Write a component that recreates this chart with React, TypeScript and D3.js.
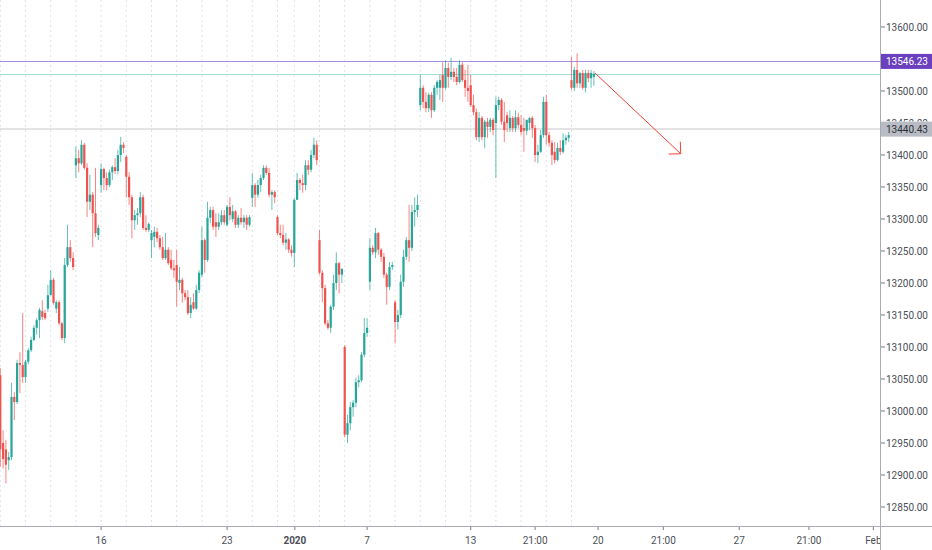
import React, { useEffect, useRef } from "react";
import * as d3 from "d3";

// open, high, low, close (hourly bars, one block per session)
type Bar = [number, number, number, number];

const bars: Bar[] = [
  // Dec 10
  [13056, 13067, 12913, 12940], [12950, 12970, 12910, 12925], [12940, 12955, 12887, 12916],
  [12923, 12936, 12908, 12928], [12928, 13044, 12923, 13022], [13022, 13030, 12986, 13014],
  [13014, 13080, 13011, 13075], [13075, 13092, 13028, 13072], [13072, 13153, 13044, 13053],
  // Dec 11
  [13053, 13080, 13044, 13077], [13077, 13098, 13073, 13095], [13095, 13116, 13092, 13111],
  [13111, 13134, 13109, 13130], [13130, 13145, 13119, 13142], [13142, 13161, 13114, 13158],
  [13156, 13173, 13142, 13147], [13153, 13158, 13142, 13145], [13160, 13197, 13155, 13181],
  // Dec 12
  [13181, 13220, 13181, 13205], [13205, 13208, 13166, 13169], [13160, 13173, 13153, 13170],
  [13170, 13173, 13134, 13137], [13137, 13139, 13111, 13114], [13114, 13239, 13106, 13228],
  [13228, 13291, 13225, 13256], [13256, 13267, 13233, 13239], [13239, 13248, 13220, 13225],
  // Dec 13
  [13384, 13413, 13364, 13395], [13395, 13408, 13373, 13387], [13387, 13423, 13384, 13416],
  [13416, 13419, 13377, 13380], [13380, 13387, 13303, 13327], [13327, 13369, 13314, 13338],
  [13338, 13342, 13256, 13309], [13309, 13380, 13272, 13278], [13275, 13291, 13267, 13286],
  // Dec 16
  [13353, 13387, 13341, 13378], [13378, 13380, 13345, 13364], [13364, 13373, 13345, 13353],
  [13353, 13377, 13350, 13373], [13373, 13384, 13361, 13381], [13381, 13395, 13370, 13375],
  [13375, 13408, 13370, 13400], [13400, 13428, 13389, 13416], [13416, 13420, 13403, 13411],
  // Dec 17
  [13397, 13400, 13334, 13366], [13366, 13373, 13322, 13334], [13334, 13338, 13270, 13298],
  [13298, 13314, 13283, 13306], [13306, 13317, 13291, 13309], [13309, 13342, 13303, 13334],
  [13334, 13338, 13283, 13286], [13286, 13306, 13280, 13283], [13283, 13295, 13280, 13292],
  // Dec 18
  [13267, 13283, 13239, 13278], [13272, 13288, 13256, 13280], [13280, 13286, 13264, 13270],
  [13270, 13275, 13252, 13256], [13256, 13272, 13236, 13239], [13239, 13278, 13236, 13252],
  [13252, 13256, 13228, 13231], [13236, 13252, 13220, 13223], [13223, 13236, 13208, 13220],
  // Dec 19
  [13228, 13252, 13163, 13202], [13200, 13225, 13189, 13205], [13205, 13208, 13169, 13184],
  [13184, 13189, 13173, 13178], [13178, 13189, 13150, 13153], [13153, 13178, 13145, 13166],
  [13170, 13184, 13158, 13160], [13160, 13197, 13158, 13189], [13189, 13220, 13184, 13216],
  // Dec 20
  [13213, 13288, 13209, 13267], [13267, 13270, 13216, 13236], [13236, 13327, 13233, 13302],
  [13302, 13319, 13294, 13314], [13314, 13319, 13283, 13288], [13295, 13309, 13272, 13288],
  [13288, 13309, 13283, 13295], [13295, 13314, 13291, 13306], [13306, 13314, 13291, 13295],
  // Dec 23
  [13291, 13322, 13289, 13319], [13319, 13334, 13298, 13306], [13300, 13322, 13295, 13312],
  [13312, 13314, 13286, 13291], [13291, 13306, 13286, 13302], [13302, 13317, 13291, 13295],
  [13295, 13306, 13286, 13302], [13302, 13306, 13283, 13291], [13291, 13306, 13288, 13303],
  // Dec 27
  [13333, 13372, 13319, 13353], [13353, 13356, 13319, 13338], [13338, 13361, 13333, 13353],
  [13353, 13369, 13342, 13364], [13364, 13384, 13361, 13380], [13380, 13384, 13369, 13372],
  [13372, 13380, 13334, 13338], [13338, 13345, 13314, 13342], [13342, 13345, 13325, 13334],
  // Dec 30
  [13303, 13306, 13275, 13278], [13278, 13291, 13270, 13275], [13275, 13291, 13259, 13263],
  [13263, 13278, 13252, 13268], [13268, 13270, 13247, 13252], [13252, 13259, 13241, 13247],
  // Jan 2
  [13247, 13333, 13225, 13330], [13330, 13372, 13330, 13361], [13361, 13364, 13345, 13356],
  [13356, 13369, 13341, 13353], [13353, 13392, 13345, 13384], [13384, 13392, 13369, 13377],
  [13377, 13408, 13373, 13400], [13400, 13427, 13395, 13416], [13416, 13423, 13384, 13392],
  // Jan 3
  [13267, 13283, 13213, 13216], [13216, 13220, 13170, 13192], [13192, 13197, 13134, 13137],
  [13137, 13142, 13127, 13130], [13130, 13166, 13122, 13163], [13163, 13213, 13158, 13200],
  [13200, 13248, 13189, 13231], [13231, 13233, 13184, 13213], [13213, 13223, 13200, 13222],
  // Jan 6
  [13100, 13103, 12959, 12963], [12963, 12994, 12950, 12981], [12981, 13014, 12970, 13006],
  [13006, 13017, 12991, 13013], [13013, 13052, 13006, 13045], [13045, 13056, 13037, 13048],
  [13048, 13092, 13045, 13088], [13088, 13145, 13084, 13122], [13122, 13145, 13116, 13130],
  // Jan 7
  [13202, 13270, 13189, 13255], [13255, 13259, 13244, 13248], [13248, 13286, 13239, 13278],
  [13278, 13280, 13244, 13252], [13252, 13255, 13233, 13241], [13241, 13247, 13208, 13213],
  [13213, 13216, 13166, 13194], [13194, 13233, 13189, 13225], [13225, 13233, 13220, 13228],
  // Jan 8
  [13170, 13173, 13106, 13139], [13139, 13158, 13127, 13150], [13150, 13213, 13145, 13202],
  [13202, 13252, 13194, 13241], [13241, 13272, 13236, 13267], [13267, 13322, 13233, 13255],
  [13255, 13322, 13250, 13311], [13311, 13334, 13288, 13314], [13314, 13338, 13303, 13322],
  // Jan 9
  [13478, 13525, 13470, 13505], [13505, 13509, 13473, 13483], [13483, 13498, 13467, 13473],
  [13473, 13497, 13467, 13494], [13494, 13498, 13458, 13470], [13470, 13509, 13467, 13505],
  [13505, 13517, 13494, 13514], [13505, 13525, 13486, 13517], [13525, 13545, 13483, 13505],
  // Jan 10
  [13505, 13548, 13502, 13536], [13536, 13544, 13505, 13522], [13522, 13552, 13517, 13530],
  [13530, 13536, 13514, 13522], [13522, 13536, 13509, 13514], [13514, 13548, 13512, 13541],
  [13541, 13545, 13514, 13517], [13517, 13533, 13491, 13505], [13505, 13541, 13483, 13500],
  // Jan 13
  [13509, 13525, 13475, 13478], [13478, 13494, 13462, 13467], [13467, 13473, 13423, 13428],
  [13428, 13467, 13420, 13458], [13458, 13461, 13423, 13428], [13428, 13455, 13411, 13452],
  [13452, 13458, 13427, 13444], [13444, 13458, 13436, 13455], [13455, 13458, 13431, 13439],
  // Jan 14
  [13450, 13491, 13364, 13478], [13478, 13491, 13470, 13486], [13486, 13489, 13447, 13452],
  [13452, 13483, 13420, 13439], [13462, 13467, 13436, 13450], [13442, 13470, 13436, 13458],
  [13458, 13461, 13436, 13442], [13442, 13470, 13436, 13459], [13459, 13466, 13442, 13447],
  // Jan 15
  [13447, 13462, 13431, 13436], [13442, 13458, 13405, 13438], [13438, 13455, 13431, 13455],
  [13450, 13459, 13439, 13458], [13458, 13461, 13427, 13442], [13442, 13447, 13389, 13400],
  [13400, 13416, 13387, 13405], [13405, 13439, 13403, 13431], [13431, 13491, 13427, 13483],
  // Jan 16
  [13483, 13494, 13416, 13431], [13431, 13436, 13413, 13419], [13419, 13423, 13384, 13400],
  [13405, 13420, 13387, 13392], [13392, 13419, 13390, 13411], [13411, 13423, 13400, 13405],
  [13405, 13434, 13402, 13423], [13423, 13431, 13416, 13427], [13427, 13436, 13420, 13431],
  // Jan 17
  [13517, 13553, 13502, 13505], [13505, 13538, 13500, 13533], [13533, 13559, 13505, 13512],
  [13512, 13530, 13505, 13528], [13528, 13533, 13502, 13505], [13505, 13533, 13498, 13528],
  [13528, 13533, 13514, 13520], [13520, 13533, 13505, 13528], [13522, 13531, 13508, 13527],
];

// bars per session (Dec 30 was short)
const sessionLengths = [9, 9, 9, 9, 9, 9, 9, 9, 9, 9, 9, 6, 9, 9, 9, 9, 9, 9, 9, 9, 9, 9, 9, 9];

// 13550 sits under the purple badge, so it is not printed
const priceTicks = [
  12850, 12900, 12950, 13000, 13050, 13100, 13150, 13200,
  13250, 13300, 13350, 13400, 13450, 13500, 13600,
];

const timeLabels = ["16", "23", "2020", "7", "13", "21:00", "20", "21:00", "27", "21:00", "Feb"];
const timeLabelBars = [36, 81, 105.2, 131, 168, 191, 213.5, 236.8, 263.9, 288.8, 311.8];

const purpleLevel = 13546.23;
const grayLevel = 13440.43;
const arrowFrom: [number, number] = [212.4, 13528];
const arrowTo: [number, number] = [243, 13402];

const W = 932;
const H = 550;
const AXIS_X = 880;
const AXIS_Y = 526;
const UP = "#26a69a";
const DOWN = "#ef5350";
const FONT = "Roboto, 'DejaVu Sans', sans-serif";
const FS = 10;

const App = () => {
  const svgRef = useRef<SVGSVGElement>(null);

  useEffect(() => {
    const svg = d3.select(svgRef.current);
    svg.selectAll("*").remove();

    const x = d3.scaleLinear().domain([0, 100]).range([0.3, 280.3]);
    const y = d3.scaleLinear().domain([12850, 13600]).range([507, 27]);
    const crisp = (v: number) => Math.round(v) + 0.5;

    const defs = svg.append("defs");
    defs.append("clipPath").attr("id", "plot")
      .append("rect").attr("width", AXIS_X).attr("height", AXIS_Y);
    defs.append("clipPath").attr("id", "timeaxis")
      .append("rect").attr("width", AXIS_X).attr("height", H);
    // keeps the half-hidden tick label above the gray badge
    defs.append("clipPath").attr("id", "pricelabels")
      .append("path")
      .attr("d", `M0,0H${W}V${y(grayLevel) - 7.5}H0Z M0,${y(grayLevel) + 7.5}H${W}V${H}H0Z`);

    svg.append("rect").attr("width", W).attr("height", H).attr("fill", "#fff");

    // vertical session grid
    const starts = d3.cumsum([0, ...sessionLengths.slice(0, -1)]);
    svg.append("g")
      .selectAll("line")
      .data(Array.from(starts))
      .join("line")
      .attr("x1", (d) => x(d))
      .attr("x2", (d) => x(d))
      .attr("y1", 0)
      .attr("y2", AXIS_Y)
      .attr("stroke", "#dfe1e6")
      .attr("stroke-dasharray", "2 3");

    const plot = svg.append("g").attr("clip-path", "url(#plot)");

    // horizontal levels
    const last = bars[bars.length - 1][3];
    plot.append("line")
      .attr("x1", 0).attr("x2", AXIS_X)
      .attr("y1", Math.round(y(grayLevel))).attr("y2", Math.round(y(grayLevel)))
      .attr("stroke", "#e3e3e6").attr("stroke-width", 2);
    plot.append("line")
      .attr("x1", 0).attr("x2", AXIS_X)
      .attr("y1", crisp(y(purpleLevel))).attr("y2", crisp(y(purpleLevel)))
      .attr("stroke", "#a98ee0").attr("stroke-width", 1);
    plot.append("line")
      .attr("x1", 0).attr("x2", AXIS_X)
      .attr("y1", crisp(y(last))).attr("y2", crisp(y(last)))
      .attr("stroke", "#a8dcd7").attr("stroke-width", 1);

    // candles
    const g = plot.append("g");
    const color = (d: Bar) => (d[3] >= d[0] ? UP : DOWN);
    g.selectAll("line.wick")
      .data(bars)
      .join("line")
      .attr("class", "wick")
      .attr("x1", (_, i) => x(i))
      .attr("x2", (_, i) => x(i))
      .attr("y1", (d) => y(Math.max(d[1], d[0], d[3])))
      .attr("y2", (d) => y(Math.min(d[2], d[0], d[3])))
      .attr("stroke", color)
      .attr("stroke-opacity", 0.7)
      .attr("stroke-width", 1);
    g.selectAll("rect.body")
      .data(bars)
      .join("rect")
      .attr("class", "body")
      .attr("x", (_, i) => x(i) - 1.1)
      .attr("width", 2.2)
      .attr("y", (d) => y(Math.max(d[0], d[3])))
      .attr("height", (d) => Math.max(1, Math.abs(y(d[0]) - y(d[3]))))
      .attr("fill", color);

    // arrow drawing
    const [ax1, ay1] = [x(arrowFrom[0]), y(arrowFrom[1])];
    const [ax2, ay2] = [x(arrowTo[0]), y(arrowTo[1])];
    const ang = Math.atan2(ay2 - ay1, ax2 - ax1);
    const head = 12;
    const arrow = d3.path();
    arrow.moveTo(ax1, ay1);
    arrow.lineTo(ax2, ay2);
    arrow.moveTo(ax2 - head * Math.cos(ang - Math.PI / 4), ay2 - head * Math.sin(ang - Math.PI / 4));
    arrow.lineTo(ax2, ay2);
    arrow.lineTo(ax2 - head * Math.cos(ang + Math.PI / 4), ay2 - head * Math.sin(ang + Math.PI / 4));
    plot.append("path")
      .attr("d", arrow.toString())
      .attr("fill", "none")
      .attr("stroke", "#f44336")
      .attr("stroke-width", 1);

    // price axis
    const py = svg.append("g");
    py.append("line")
      .attr("x1", AXIS_X + 0.5).attr("x2", AXIS_X + 0.5)
      .attr("y1", 0).attr("y2", H)
      .attr("stroke", "#a9abb3");
    const pt = py.append("g").attr("clip-path", "url(#pricelabels)")
      .selectAll("g.tick").data(priceTicks).join("g").attr("class", "tick")
      .attr("transform", (d) => `translate(0,${y(d)})`);
    pt.append("line")
      .attr("x1", AXIS_X + 1).attr("x2", AXIS_X + 5)
      .attr("stroke", "#7a7d86");
    pt.append("text")
      .attr("x", 886)
      .attr("dy", "0.35em")
      .attr("font-family", FONT)
      .attr("font-size", FS)
      .attr("fill", "#4b4f58")
      .text((d) => d3.format(".2f")(d));

    const badge = (v: number, bg: string, fg: string) => {
      const b = py.append("g").attr("transform", `translate(0,${y(v)})`);
      b.append("rect")
        .attr("x", AXIS_X + 1).attr("y", -7.5)
        .attr("width", W - AXIS_X - 1).attr("height", 15)
        .attr("fill", bg);
      b.append("text")
        .attr("x", 886)
        .attr("dy", "0.35em")
        .attr("font-family", FONT)
        .attr("font-size", FS)
        .attr("fill", fg)
        .text(d3.format(".2f")(v));
    };
    badge(purpleLevel, "#6a3fc0", "#ffffff");
    badge(grayLevel, "#b9bcc4", "#2e313a");

    // time axis
    svg.append("line")
      .attr("x1", 0).attr("x2", W)
      .attr("y1", AXIS_Y + 0.5).attr("y2", AXIS_Y + 0.5)
      .attr("stroke", "#a9abb3");
    const tx = svg.append("g").attr("clip-path", "url(#timeaxis)");
    const tt = tx.selectAll("g.tick").data(timeLabels).join("g").attr("class", "tick")
      .attr("transform", (_, i) => `translate(${x(timeLabelBars[i])},0)`);
    tt.append("line")
      .attr("y1", AXIS_Y + 1).attr("y2", AXIS_Y + 4)
      .attr("stroke", "#7a7d86");
    tt.append("text")
      .attr("y", 544)
      .attr("text-anchor", "middle")
      .attr("font-family", FONT)
      .attr("font-size", FS)
      .attr("font-weight", (d) => (d === "2020" ? "bold" : "normal"))
      .attr("fill", "#4b4f58")
      .text((d) => d);
  }, []);

  return (
    <>
      <style>{"body{margin:0;background:#fff}"}</style>
      <svg ref={svgRef} width={W} height={H} style={{ display: "block" }} />
    </>
  );
};

export default App;
